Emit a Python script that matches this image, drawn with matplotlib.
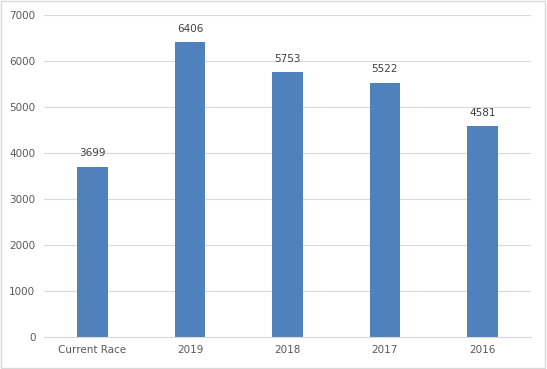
import matplotlib.pyplot as plt
from matplotlib.patches import Rectangle

categories = ["Current Race", "2019", "2018", "2017", "2016"]
values = [3699, 6406, 5753, 5522, 4581]

fig = plt.figure(figsize=(5.47, 3.69), dpi=100)
ax = fig.add_axes([0.080, 0.087, 0.891, 0.872])

x = range(len(categories))
ax.bar(x, values, width=0.31, color="#4f81bd", zorder=2)
for i, v in zip(x, values):
    ax.text(i, v + 190, str(v), ha="center", va="bottom", fontsize=7.5, color="#404040")

ax.set_xlim(-0.5, len(categories) - 0.5)
ax.set_ylim(0, 7000)
ax.set_yticks(range(0, 7001, 1000))
ax.set_xticks(list(x))
ax.set_xticklabels(categories)
ax.grid(axis="y", color="#d9d9d9", linewidth=0.8, zorder=0)
ax.tick_params(length=0, labelsize=7.5, labelcolor="#595959", pad=6)
for s in ["top", "right", "left"]:
    ax.spines[s].set_visible(False)
ax.spines["bottom"].set_color("#d9d9d9")

fig.patches.append(Rectangle((0.002, 0.003), 0.995, 0.994, transform=fig.transFigure,
                             fill=False, edgecolor="#d9d9d9", linewidth=1))

fig.savefig("out.png", dpi=100)
